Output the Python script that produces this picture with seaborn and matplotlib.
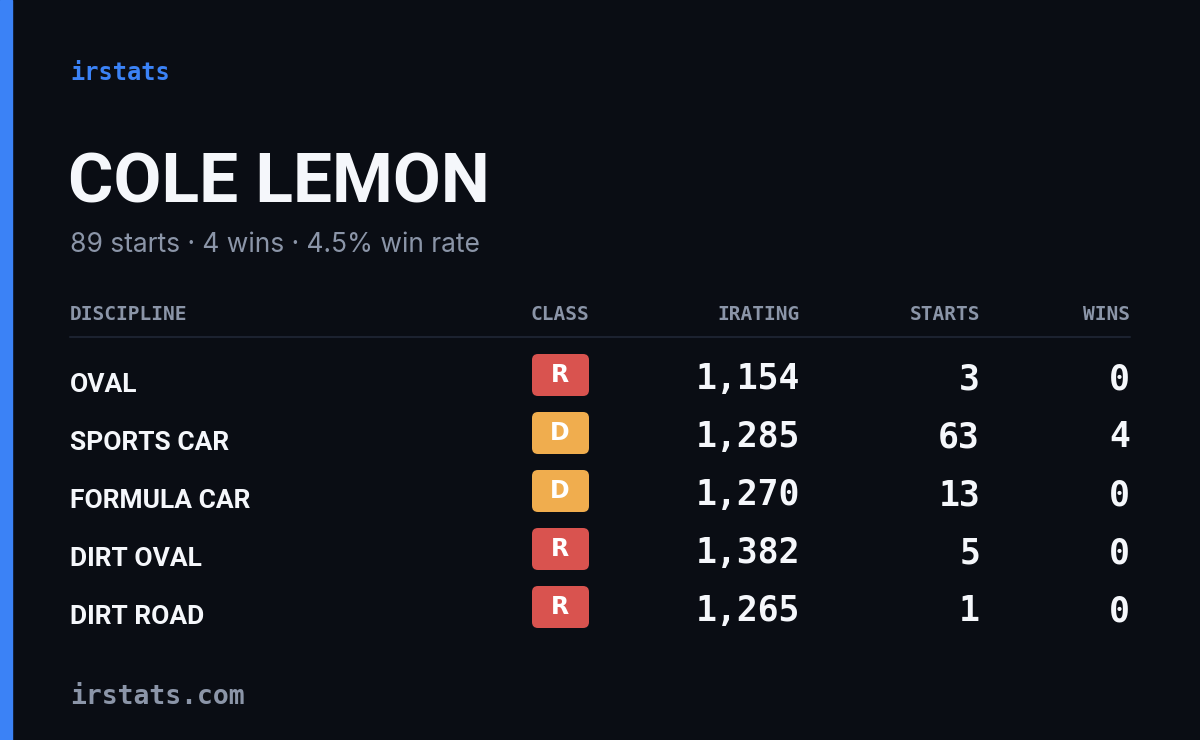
import matplotlib
matplotlib.use("Agg")
import matplotlib.pyplot as plt
import seaborn as sns
from matplotlib.patches import FancyBboxPatch, Rectangle

disciplines = ["OVAL", "SPORTS CAR", "FORMULA CAR", "DIRT OVAL", "DIRT ROAD"]
classes = ["R", "D", "D", "R", "R"]
iratings = [1154, 1285, 1270, 1382, 1265]
starts = [3, 63, 13, 5, 1]
wins = [0, 4, 0, 0, 0]
headers = ["DISCIPLINE", "CLASS", "IRATING", "STARTS", "WINS"]
name = "COLE LEMON"
summary = "89 starts · 4 wins · 4.5% win rate"

sns.set_theme(style="white")
BG = "#0a0d14"
GRAY = "#8b95a8"
class_colors = {"R": "#d9534f", "D": "#f0ad4e"}
NARROW = ["Roboto", "DejaVu Sans"]
MONO = ["DejaVu Sans Mono"]

fig = plt.figure(figsize=(12, 7.4), dpi=100, facecolor=BG)
ax = fig.add_axes([0, 0, 1, 1])
ax.set_facecolor(BG)
ax.set_xlim(0, 1200); ax.set_ylim(740, 0); ax.axis("off")

ax.add_patch(Rectangle((0, 0), 12, 740, color="#3b82f6"))
ax.text(70, 73, "irstats", color="#3b82f6", fontsize=17, family=MONO, weight="bold", va="center")
ax.text(68, 184, name, color="#f5f7fb", fontsize=50, family=NARROW, weight="bold", va="center")
ax.text(70, 245, summary, color=GRAY, fontsize=19, family=["Inter", "DejaVu Sans"], va="center")

hx = [70, 560, 800, 980, 1130]
ha = ["left", "center", "right", "right", "right"]
for h, x, a in zip(headers, hx, ha):
    ax.text(x, 314, h, color=GRAY, fontsize=14, family=MONO, weight="bold", ha=a, va="center")
ax.plot([70, 1130], [337, 337], color="#1c2230", lw=1.5)

for i, (d, c, r, s, w) in enumerate(zip(disciplines, classes, iratings, starts, wins)):
    y = 382 + 58 * i
    ax.text(70, y + 3, d, color="#f5f7fb", fontsize=19, family=NARROW, weight="bold", va="center")
    ax.add_patch(FancyBboxPatch((535, y - 25), 51, 36, boxstyle="round,pad=3,rounding_size=6",
                                color=class_colors[c], lw=0))
    ax.text(560, y - 7, c, color="white", fontsize=17, weight="bold", ha="center", va="center")
    for val, x in zip([f"{r:,}", str(s), str(w)], [800, 980, 1130]):
        ax.text(x, y - 3, val, color="#f5f7fb", fontsize=25, family=MONO, weight="bold",
                ha="right", va="center")

ax.text(70, 697, "irstats.com", color=GRAY, fontsize=19, family=MONO, weight="bold", va="center")
fig.savefig("out.png", dpi=100, facecolor=BG)
